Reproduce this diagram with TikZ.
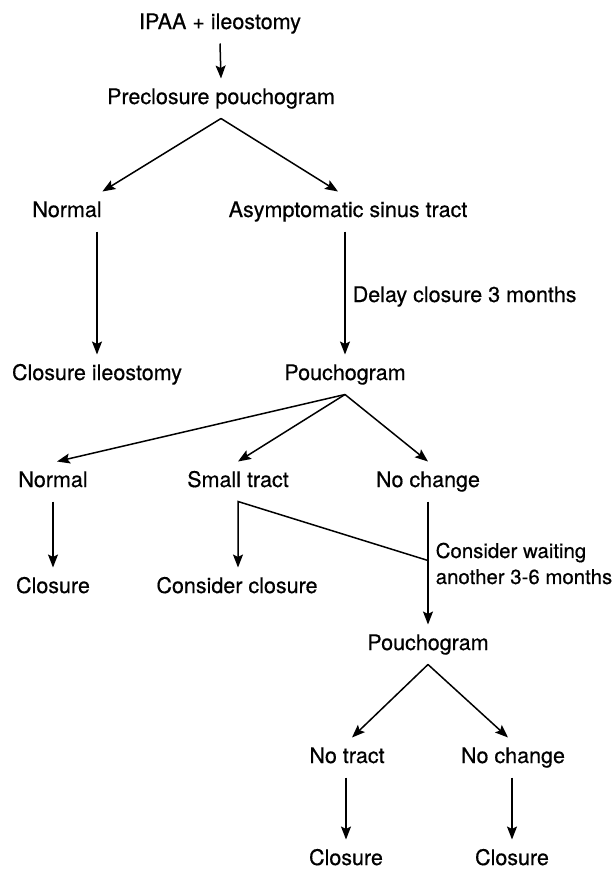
\documentclass[tikz,border=0pt]{standalone}
\usepackage{fontspec}
\setmainfont{TeX Gyre Heros}[FakeBold=0.5]
\usetikzlibrary{arrows.meta,calc}
\begin{document}
\begin{tikzpicture}[x=1pt,y=-1pt,line width=1.5pt,
  lbl/.style={anchor=base, inner sep=0pt, outer ysep=10pt,
    text height=15.5pt, text depth=4.5pt, font=\fontsize{21.5}{26}\selectfont},
  note/.style={inner sep=0pt, align=left, font=\fontsize{21.5}{26}\selectfont},
  arr/.style={-{Stealth[length=13pt,width=10pt,inset=2.5pt]}}]
\useasboundingbox (0,0) rectangle (613,870);

% decision nodes
\node[lbl] (ipaa)    at (220,29)  {IPAA + ileostomy};
\node[lbl] (pre)     at (221,104) {Preclosure pouchogram};
\node[lbl] (normA)   at (67,217)  {Normal};
\node[lbl] (asym)    at (348,217) {Asymptomatic sinus tract};
\node[lbl] (closIl)  at (97,380)  {Closure ileostomy};
\node[lbl] (pouchA)  at (345,380) {Pouchogram};
\node[lbl] (normB)   at (53,487)  {Normal};
\node[lbl] (small)   at (238,487) {Small tract};
\node[lbl] (nochA)   at (428,487) {No change};
\node[lbl] (closA)   at (53,593)  {Closure};
\node[lbl] (consClo) at (237,593) {Consider closure};
\node[lbl] (pouchB)  at (428,650) {Pouchogram};
\node[lbl] (notract) at (347,763) {No tract};
\node[lbl] (nochB)   at (513,763) {No change};
\node[lbl] (closB)   at (346,865) {Closure};
\node[lbl] (closC)   at (512,865) {Closure};

% edge notes
\node[note, anchor=base west]  (delay) at (352,302) {Delay closure 3 months};
\node[note, anchor=north west, font=\fontsize{20.4}{26}\selectfont]
  (wait) at (435,542) {Consider waiting\\another 3-6 months};

% connectors
\draw[arr] (ipaa.south) -- (pre.north);
\draw[arr] (pre.south) -- (normA.north east);
\draw[arr] (pre.south) -- ($(asym.north)+(-10,0)$);
\draw[arr] (normA.south -| closIl.north) -- (closIl.north);
\draw[arr] (asym.south -| pouchA.north) -- (pouchA.north);
\draw[arr] (pouchA.south) -- ($(normB.north)+(4,0)$);
\draw[arr] (pouchA.south) -- (small.north);
\draw[arr] (pouchA.south) -- (nochA.north);
\draw[arr] (normB.south) -- (closA.north);
\coordinate (join) at ($(nochA.south)+(0,59)$);
\draw[arr] (join) -- (small.south) -- (small.south |- consClo.north);
\draw[arr] (nochA.south) -- (pouchB.north);
\draw[arr] (pouchB.south) -- ($(notract.north)+(5,0)$);
\draw[arr] (pouchB.south) -- ($(nochB.north)+(-5,0)$);
\draw[arr] (notract.south -| closB.north) -- (closB.north);
\draw[arr] (nochB.south -| closC.north) -- (closC.north);
\end{tikzpicture}
\end{document}
